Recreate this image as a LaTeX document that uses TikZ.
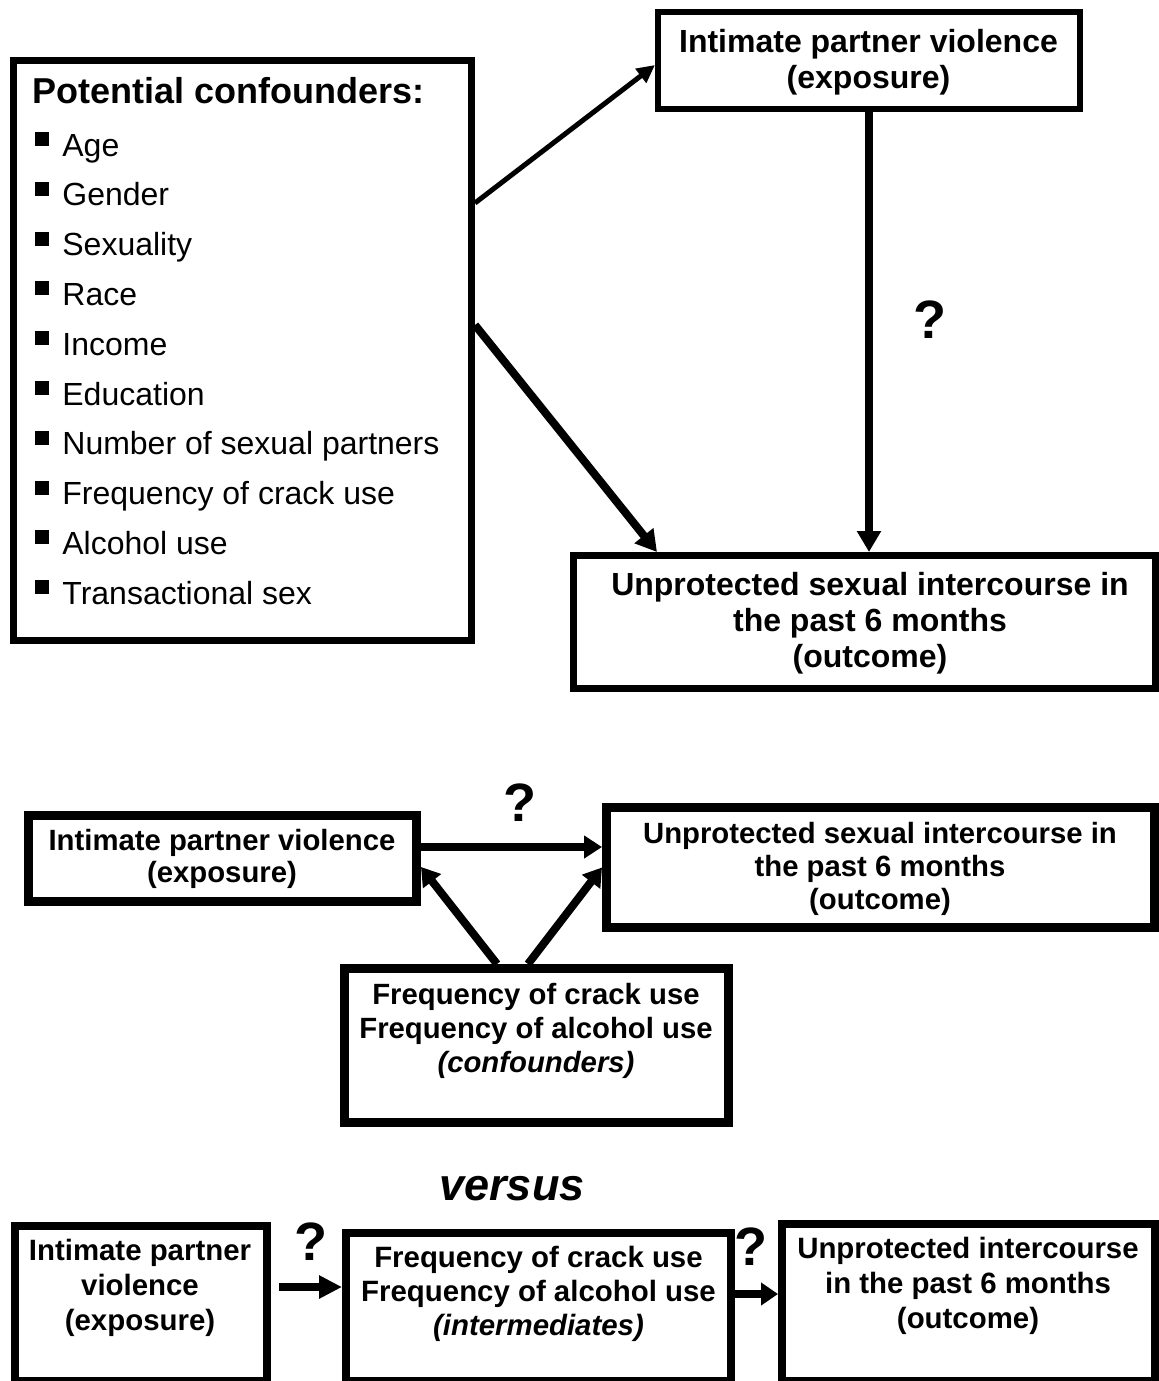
\documentclass[tikz,border=0pt]{standalone}
\usepackage{fontspec}
\setmainfont{Liberation Sans}
\usetikzlibrary{arrows.meta}
\begin{document}
\begin{tikzpicture}[x=0.5pt,y=-0.5pt,
  box/.style={draw,rectangle,inner sep=0pt},
  txt/.style={inner sep=0pt,align=center},
  topfont/.style={font=\fontsize{16}{18}\selectfont\bfseries},
  midfont/.style={font=\fontsize{14.65}{16.5}\selectfont\bfseries},
  lowfont/.style={font=\fontsize{14.7}{17.5}\selectfont\bfseries},
  item/.style={inner sep=0pt,anchor=base west,font=\fontsize{16}{18}\selectfont},
  qmark/.style={inner sep=0pt,font=\fontsize{27}{30}\selectfont\bfseries},
  thinarr/.style={line width=2.5pt,-{Triangle[length=9pt,width=8.5pt]}},
  diagarr/.style={line width=4pt,-{Triangle[length=10.5pt,width=11.5pt]}},
  midarr/.style={line width=4pt,-{Triangle[length=9pt,width=11pt]}},
  lowarr/.style={line width=4pt,-{Triangle[length=11.5pt,width=11pt]}},
  lowarrb/.style={line width=4pt,-{Triangle[length=8.5pt,width=11pt]}}]
\fill[white] (0,0) rectangle (1159,1381);
\useasboundingbox (0,0) rectangle (1159,1381);

% ---------- top section ----------
\node[box,line width=3.5pt,minimum width=229pt,minimum height=290pt] (conf) at (242.5,350.5) {};
\node[inner sep=0pt,anchor=base west,font=\fontsize{18}{20}\selectfont\bfseries] (confhead) at (32,103) {Potential confounders:};
\foreach \t [count=\i] in {Age,Gender,Sexuality,Race,Income,Education,Number of sexual partners,Frequency of crack use,Alcohol use,Transactional sex}{
  \pgfmathsetmacro{\b}{156+49.8*(\i-1)}
  \node[item] (item\i) at (62,\b) {\t};
  \fill (35,\b-24) rectangle (49,\b-10);
}

\node[box,line width=3pt,minimum width=211pt,minimum height=48.5pt] (ipv) at (869,60.5) {};
\node[txt,topfont] (ipvt) at (868.5,61.9) {Intimate partner violence\\(exposure)};

\node[box,line width=3.5pt,minimum width=291pt,minimum height=66.5pt] (usi) at (864.5,622) {};
\node[txt,topfont] (usit) at (870,622.9) {Unprotected sexual intercourse in\\the past 6 months\\(outcome)};

\draw[thinarr] ([yshift=73.75pt]conf.east) -- ([yshift=-2.25pt]ipv.west);
\draw[diagarr] ([yshift=12.75pt]conf.east) -- ([xshift=-103.75pt]usi.north);
\draw[diagarr] (ipv.south) -- (ipv.south |- usi.north);
\node[qmark] (q1) at (930,320) {?};

% ---------- middle section ----------
\node[box,line width=4.5pt,minimum width=194pt,minimum height=43pt] (ipvb) at (222.5,858.5) {};
\node[txt,midfont,font=\fontsize{14.65}{16}\selectfont\bfseries] (ipvbt) at (222,858.6) {Intimate partner violence\\(exposure)};

\node[box,line width=4.5pt,minimum width=274pt,minimum height=60pt] (usib) at (880.5,867.5) {};
\node[txt,midfont] (usibt) at (880,868.6) {Unprotected sexual intercourse in\\the past 6 months\\(outcome)};

\node[box,line width=4.5pt,minimum width=192pt,minimum height=77pt] (cnf) at (536.5,1045.5) {};
\node[txt,midfont,font=\fontsize{14.65}{17}\selectfont\bfseries] (cnft) at (536,1031.1) {Frequency of crack use\\Frequency of alcohol use\\\textit{(confounders)}};

\draw[midarr] ([yshift=5.75pt]ipvb.east) -- ([yshift=10.25pt]usib.west);
\draw[midarr] ([xshift=-19.75pt]cnf.north) -- ([yshift=-4.25pt]ipvb.east);
\draw[midarr] ([xshift=-4.25pt]cnf.north) -- (usib.west);
\node[qmark] (q2) at (520,803) {?};

% ---------- versus ----------
\node[inner sep=0pt,anchor=base,font=\fontsize{22.5}{25}\selectfont\bfseries\itshape] (vs) at (512,1200) {versus};

% ---------- bottom section ----------
\node[box,line width=4pt,minimum width=126pt,minimum height=77.5pt] (ipvc) at (141,1303.5) {};
\node[txt,lowfont] (ipvct) at (140,1287.6) {Intimate partner\\violence\\(exposure)};

\node[box,line width=4pt,minimum width=192.5pt,minimum height=74pt] (inter) at (538.5,1307) {};
\node[txt,lowfont,font=\fontsize{14.7}{17}\selectfont\bfseries] (intert) at (538.5,1294.1) {Frequency of crack use\\Frequency of alcohol use\\\textit{(intermediates)}};

\node[box,line width=4pt,minimum width=186.5pt,minimum height=78.5pt] (usic) at (968.5,1302.5) {};
\node[txt,lowfont] (usict) at (968,1285.6) {Unprotected intercourse\\in the past 6 months\\(outcome)};

\draw[lowarr] ([xshift=4pt,yshift=8.25pt]ipvc.east) -- ([yshift=10pt]inter.west);
\draw[lowarrb] ([yshift=6.5pt]inter.east) -- ([yshift=4.25pt]usic.west);
\node[qmark] (q3) at (311,1242) {?};
\node[qmark] (q4) at (751,1247) {?};
\end{tikzpicture}
\end{document}
